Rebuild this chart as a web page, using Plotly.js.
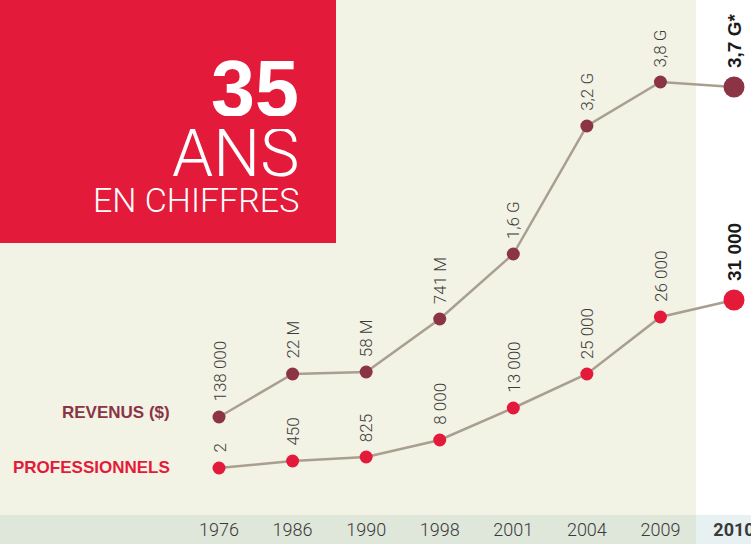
<!DOCTYPE html>
<html><head><meta charset="utf-8">
<script src="https://cdn.plot.ly/plotly-3.0.1.min.js"></script>
<style>html,body{margin:0;padding:0;background:#fff;}#chart{width:751px;height:544px;}</style>
</head><body><div id="chart"></div>
<script>
// Data
var years = ["1976","1986","1990","1998","2001","2004","2009","2010"];
var revenusLabels = ["138 000","22 M","58 M","741 M","1,6 G","3,2 G","3,8 G","3,7 G*"];
var proLabels = ["2","450","825","8 000","13 000","25 000","26 000","31 000"];
// Drawn heights of the points (illustrative scale of the infographic)
var revenusLevel = [98, 141, 143, 196, 261, 389, 433, 428];
var proLevel = [47, 54, 58, 75, 107, 141, 198, 215];

var idx = years.map(function(_, i){ return i; });
var last = years.length - 1;
var sizes = years.map(function(_, i){ return i === last ? 21 : 13; });

var RED = "#e31a3a", MAROON = "#8a3446", LINE = "#a99f8f";
var FONT = "Liberation Sans, Arial, sans-serif";
var LIGHT = "Roboto, Liberation Sans, Arial, sans-serif";

var traces = [
  {x: idx, y: revenusLevel, mode: "lines+markers", type: "scatter",
   line: {color: LINE, width: 2.5}, marker: {color: MAROON, size: sizes, opacity: 1, line: {width: 0}}, hoverinfo: "skip"},
  {x: idx, y: proLevel, mode: "lines+markers", type: "scatter",
   line: {color: LINE, width: 2.5}, marker: {color: RED, size: sizes, opacity: 1, line: {width: 0}}, hoverinfo: "skip"}
];

var annotations = [];
function addLabels(levels, labels) {
  levels.forEach(function(v, i){
    var isLast = i === last;
    annotations.push({
      x: i, y: v, xref: "x", yref: "y", text: isLast ? "<b>" + labels[i] + "</b>" : labels[i],
      showarrow: false, textangle: -90, xanchor: "center", yanchor: "bottom",
      yshift: isLast ? 17 : 13,
      font: isLast ? {family: FONT, size: 19, color: "#1a1a1a"}
                   : {family: LIGHT, size: 17, color: "#3c3c3c", weight: 300}
    });
  });
}
addLabels(revenusLevel, revenusLabels);
addLabels(proLevel, proLabels);

var H = 515;
function py(pix){ return (H - pix) / H; }
annotations.push(
  {xref: "paper", yref: "paper", x: 301/751, y: py(88), xanchor: "right", yanchor: "middle", height: 56,
   text: "<b>35</b>", showarrow: false, font: {family: FONT, size: 79, color: "#fff"}},
  {xref: "paper", yref: "paper", x: 301/751, y: py(153), xanchor: "right", yanchor: "middle", height: 48,
   text: "ANS", showarrow: false, font: {family: LIGHT, size: 66, color: "#fff", weight: 300}},
  {xref: "paper", yref: "paper", x: 301/751, y: py(200), xanchor: "right", yanchor: "middle", height: 26,
   text: "EN CHIFFRES", showarrow: false, font: {family: LIGHT, size: 34, color: "#fff", weight: 300}},
  {xref: "paper", yref: "paper", x: 172/751, y: py(412), xanchor: "right", yanchor: "middle",
   text: "<b>REVENUS ($)</b>", showarrow: false, font: {family: FONT, size: 17, color: MAROON}},
  {xref: "paper", yref: "paper", x: 172/751, y: py(467), xanchor: "right", yanchor: "middle",
   text: "<b>PROFESSIONNELS</b>", showarrow: false, font: {family: FONT, size: 17, color: RED}}
);

var shapes = [
  {type: "rect", xref: "paper", yref: "paper", x0: 0, x1: 696/751, y0: 0, y1: 1,
   fillcolor: "#f2f2e5", line: {width: 0}, layer: "below"},
  {type: "rect", xref: "paper", yref: "paper", x0: 696/751, x1: 1, y0: 0, y1: 1,
   fillcolor: "#ffffff", line: {width: 0}, layer: "below"},
  {type: "rect", xref: "paper", yref: "paper", x0: 696/751, x1: 1, y0: -29/H, y1: 0,
   fillcolor: "#e7f1f2", line: {width: 0}, layer: "below"},
  {type: "rect", xref: "paper", yref: "paper", x0: 0, x1: 336/751, y0: py(243), y1: 1,
   fillcolor: RED, line: {width: 0}, layer: "below"}
];

var ticktext = years.map(function(y, i){ return i === last ? "<b>" + y + "</b>" : y; });

var layout = {
  width: 751, height: 544,
  margin: {l: 0, r: 0, t: 0, b: 29, pad: 0},
  paper_bgcolor: "#dfe6da", plot_bgcolor: "rgba(0,0,0,0)",
  showlegend: false,
  xaxis: {range: [-2.977, 7.231], tickvals: idx, ticktext: ticktext, showgrid: false,
          zeroline: false, showline: false, ticks: "", fixedrange: true,
          ticklabeloverflow: "allow", ticklabelstandoff: 2,
          tickfont: {family: LIGHT, size: 18, color: "#3a3a3a", weight: 300}},
  yaxis: {range: [0, H], visible: false, fixedrange: true},
  shapes: shapes, annotations: annotations
};

Plotly.newPlot("chart", traces, layout, {displayModeBar: false, staticPlot: true});
</script></body></html>
